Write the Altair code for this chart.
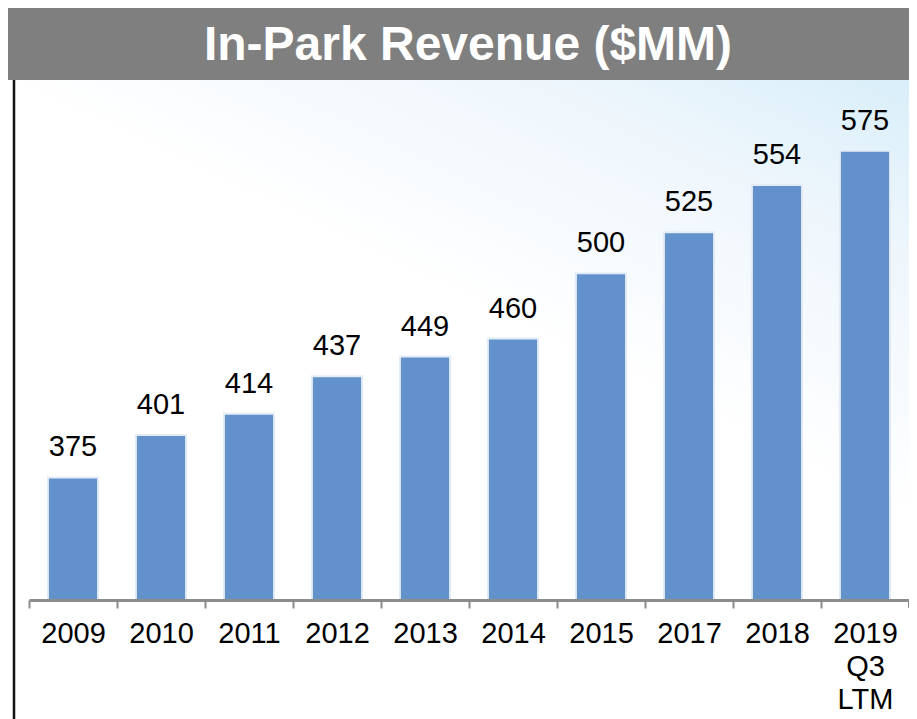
import altair as alt
import pandas as pd

categories = ["2009", "2010", "2011", "2012", "2013", "2014", "2015", "2017", "2018", "2019 Q3 LTM"]
revenue = [375, 401, 414, 437, 449, 460, 500, 525, 554, 575]
title_text = "In-Park Revenue ($MM)"

df = pd.DataFrame({"cat": categories, "rev": revenue})
one = alt.Data(values=[{"k": 1}])

FONT = "Liberation Sans"
AXIS_GRAY = "#8C8C8C"

xscale = alt.Scale(domain=categories, paddingInner=0.43, paddingOuter=0.215)
yscale = alt.Scale(domain=[300, 617], zero=False, nice=False)

bg = alt.Chart(one).mark_rect(
    color=alt.LinearGradient(
        gradient="linear",
        stops=[alt.GradientStop(color="#CFEBF8", offset=0),
               alt.GradientStop(color="#EEF6FC", offset=0.35),
               alt.GradientStop(color="#FFFFFF", offset=0.7),
               alt.GradientStop(color="#FFFFFF", offset=1)],
        x1=1, y1=0, x2=0.55, y2=0.75,
    )
).encode(x=alt.value(-21), x2=alt.value(880), y=alt.value(-82), y2=alt.value(637))

banner = alt.Chart(one).mark_rect(color="#7F7F7F").encode(
    x=alt.value(-22), x2=alt.value(890), y=alt.value(-77), y2=alt.value(-2)
)

leftline = alt.Chart(one).mark_rule(color="#111111", strokeWidth=2.5).encode(
    x=alt.value(-15), y=alt.value(-2), y2=alt.value(640)
)

lasttick = alt.Chart(one).mark_rule(color=AXIS_GRAY, strokeWidth=2).encode(
    x=alt.value(880), y=alt.value(518), y2=alt.value(526)
)

title = alt.Chart(one).mark_text(
    text=title_text, font=FONT, fontWeight="bold", fontSize=48,
    color="white", align="center", baseline="alphabetic"
).encode(x=alt.value(439), y=alt.value(-22))

bars = alt.Chart(df).mark_bar(color="#6391CB", stroke="#E4EDF7", strokeWidth=2).encode(
    x=alt.X("cat:N", scale=xscale, sort=categories, axis=alt.Axis(
        title=None, labelAngle=0, labelFontSize=29, labelFont=FONT, labelColor="#000000",
        labelExpr="split(datum.label, ' ')", labelLineHeight=33,
        domainColor=AXIS_GRAY, domainWidth=3, tickColor=AXIS_GRAY, tickWidth=2,
        tickSize=8, tickOffset=-44, labelOffset=44, labelPadding=11, grid=False, zindex=2)),
    y=alt.Y("rev:Q", scale=yscale, axis=None),
    y2=alt.datum(300),
)

labels = alt.Chart(df).mark_text(
    font=FONT, fontSize=29, color="#000000", baseline="alphabetic", dy=-21
).encode(
    x=alt.X("cat:N", scale=xscale, sort=categories),
    y=alt.Y("rev:Q", scale=yscale),
    text=alt.Text("rev:Q"),
)

chart = alt.layer(bg, banner, leftline, bars, labels, lasttick, title).properties(
    width=880, height=518,
    autosize=alt.AutoSizeParams(type="none"),
    padding={"left": 21, "top": 74, "right": 0, "bottom": 119},
    background="#FFFFFF",
).configure_view(stroke=None)

chart.save("out.html", embed_options={"renderer": "svg", "actions": False})
